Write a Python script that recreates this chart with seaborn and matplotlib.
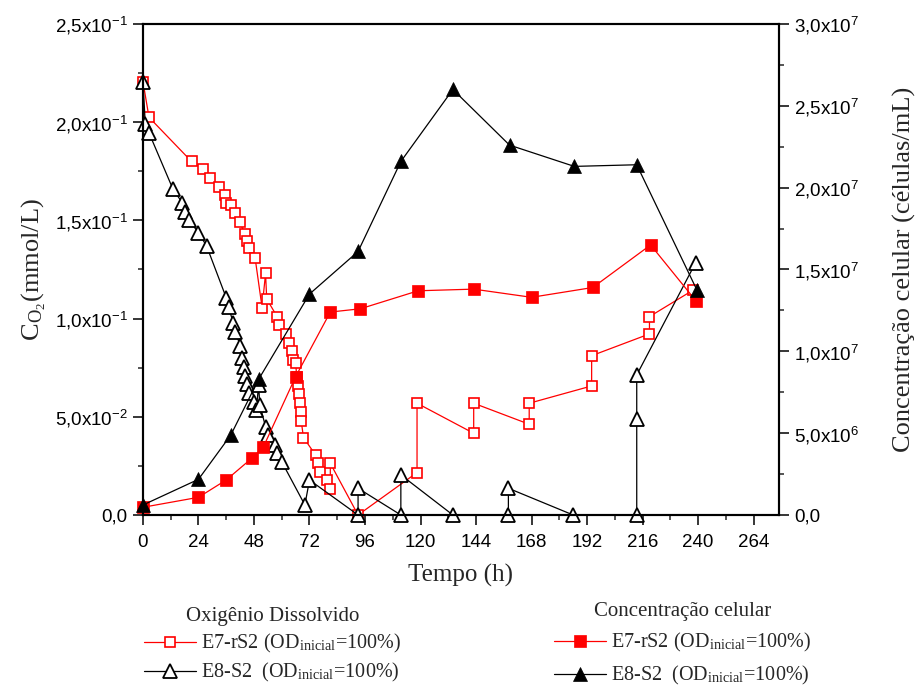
import matplotlib.pyplot as plt
import seaborn as sns
from matplotlib.ticker import MultipleLocator

# dissolved oxygen, E7-rS2 (open squares) - time (h), C_O2 (mmol/L)
t_o2_e7 = [0, 2.6, 21, 26, 29, 33, 35.5, 36, 38, 40,
           42, 44, 45, 46, 48.5, 51.5, 53, 53.5, 58, 59,
           62, 63, 64.4, 65, 66, 66.5, 67, 67.5, 68, 68.4,
           68.4, 69.4, 74.6, 75.5, 76.6, 79.5, 81, 81, 93, 118.5,
           118.5, 143, 143, 167, 167, 194, 194, 219, 219, 238]
c_o2_e7 = [0.2206, 0.2025, 0.180, 0.176, 0.1718, 0.167, 0.163, 0.1587, 0.158, 0.154,
           0.149, 0.143, 0.1395, 0.136, 0.1307, 0.1056, 0.123, 0.110, 0.101, 0.0966,
           0.0921, 0.0877, 0.0835, 0.0789, 0.0772, 0.0704, 0.0658, 0.0614, 0.0569, 0.0523,
           0.048, 0.0394, 0.0306, 0.0263, 0.0217, 0.0178, 0.0132, 0.0263, 0.0, 0.0216,
           0.0569, 0.0416, 0.0569, 0.0462, 0.0569, 0.0657, 0.0811, 0.0922, 0.101, 0.1146]

# dissolved oxygen, E8-S2 (open triangles)
t_o2_e8 = [0, 1, 2.7, 13, 17, 18, 20, 24, 27.5, 36,
           37, 39, 40, 42, 43, 43.7, 44, 45, 46, 48,
           49, 50, 50.5, 53, 54, 57, 58, 60, 70, 72,
           93, 93, 111.5, 111.5, 134, 158, 158, 186, 213.5, 213.5,
           213.5, 239]
c_o2_e8 = [0.2206, 0.199, 0.1943, 0.1658, 0.159, 0.1544, 0.150, 0.1437, 0.137, 0.1106,
           0.106, 0.0979, 0.0933, 0.0862, 0.0798, 0.0752, 0.0708, 0.0667, 0.062, 0.0577,
           0.0535, 0.0662, 0.056, 0.045, 0.0407, 0.0356, 0.0314, 0.0271, 0.0051, 0.0178,
           0.0, 0.0136, 0.0, 0.0204, 0.0, 0.0, 0.0136, 0.0, 0.0, 0.0487,
           0.0713, 0.1285]

# cell concentration (cells/mL)
t_cel_e7 = [0, 24, 36, 47, 52, 66, 81, 94, 119, 143, 168, 194.5, 219.5, 239]
c_cel_e7 = [4.7e5, 1.08e6, 2.14e6, 3.46e6, 4.14e6, 8.45e6, 1.24e7, 1.26e7, 1.37e7,
            1.38e7, 1.33e7, 1.39e7, 1.65e7, 1.31e7]
t_cel_e8 = [0, 24, 38, 50, 72, 93, 111.5, 134, 158.5, 186.5, 213.5, 239.5]
c_cel_e8 = [6.1e5, 2.18e6, 4.89e6, 8.29e6, 1.35e7, 1.61e7, 2.16e7, 2.6e7, 2.26e7,
            2.13e7, 2.14e7, 1.375e7]

x_ticks = [0, 24, 48, 72, 96, 120, 144, 168, 192, 216, 240, 264]
y_left_ticks = [0, 0.05, 0.10, 0.15, 0.20, 0.25]
y_left_labels = ['0,0', r'5,0x10$^{\mathregular{-2}}$', r'1,0x10$^{\mathregular{-1}}$',
                 r'1,5x10$^{\mathregular{-1}}$', r'2,0x10$^{\mathregular{-1}}$',
                 r'2,5x10$^{\mathregular{-1}}$']
y_right_ticks = [0, 5e6, 1e7, 1.5e7, 2e7, 2.5e7, 3e7]
y_right_labels = ['0,0', r'5,0x10$^{\mathregular{6}}$', r'1,0x10$^{\mathregular{7}}$',
                  r'1,5x10$^{\mathregular{7}}$', r'2,0x10$^{\mathregular{7}}$',
                  r'2,5x10$^{\mathregular{7}}$', r'3,0x10$^{\mathregular{7}}$']

label_e7 = r'E7-rS2 (OD$_{\mathregular{inicial}}$=100%)'
label_e8 = r'E8-S2  (OD$_{\mathregular{inicial}}$=100%)'

sns.set_style("ticks")
plt.rcParams['font.family'] = ['Liberation Serif', 'DejaVu Serif']
plt.rcParams['mathtext.fontset'] = 'stix'

fig = plt.figure(figsize=(9.16, 6.86), dpi=100)
ax = fig.add_axes([0.1561, 0.2493, 0.6943, 0.7157])
ax2 = ax.twinx()

common = dict(sort=False, estimator=None, legend=False, clip_on=False, lw=0.9)

# oxygen curves on the left axis
sns.lineplot(x=t_o2_e7, y=c_o2_e7, ax=ax, color='red', marker='s', markersize=7.5,
             markerfacecolor='white', markeredgecolor='red', markeredgewidth=1.2, **common)
sns.lineplot(x=t_o2_e8, y=c_o2_e8, ax=ax, color='black', marker='^', markersize=10,
             markerfacecolor='white', markeredgecolor='black', markeredgewidth=1.3, **common)

# cell curves on the right axis
sns.lineplot(x=t_cel_e7, y=c_cel_e7, ax=ax2, color='red', marker='s', markersize=9,
             markerfacecolor='red', markeredgecolor='red', markeredgewidth=0.5, **common)
sns.lineplot(x=t_cel_e8, y=c_cel_e8, ax=ax2, color='black', marker='^', markersize=10,
             markerfacecolor='black', markeredgecolor='black', markeredgewidth=0.5, **common)

ax.set_xlim(0, 275)
ax.set_ylim(0, 0.25)
ax2.set_ylim(0, 3e7)

ax.set_xticks(x_ticks)
ax.set_xticklabels([str(v) for v in x_ticks], fontfamily='Liberation Sans', fontsize=13.5)
ax.xaxis.set_minor_locator(MultipleLocator(12))
ax.set_yticks(y_left_ticks)
ax.set_yticklabels(y_left_labels, fontfamily='Liberation Sans', fontsize=13.5)
ax.yaxis.set_minor_locator(MultipleLocator(0.025))
ax2.set_yticks(y_right_ticks)
ax2.set_yticklabels(y_right_labels, fontfamily='Liberation Sans', fontsize=13.5)
ax2.yaxis.set_minor_locator(MultipleLocator(2.5e6))

for a in (ax, ax2):
    a.tick_params(which='major', direction='out', length=7, width=1.1, pad=4, colors='black')
    a.tick_params(which='minor', direction='out', length=3.5, width=1.1)
    for s in a.spines.values():
        s.set_linewidth(1.5)
        s.set_color('black')
ax.tick_params(top=False, right=False, which='both')
ax.tick_params(axis='x', which='major', pad=7)

ax.set_xlabel('Tempo (h)', fontsize=18, labelpad=9)
ax.set_ylabel(r'C$_{\mathregular{O_2}}$(mmol/L)', fontsize=19, labelpad=5)
ax2.set_ylabel('Concentração celular (células/mL)', fontsize=19, labelpad=24)

leg_kw = dict(frameon=False, fontsize=14.5, title_fontsize=15, handlelength=2.6,
              handletextpad=0.25, borderpad=0.25, loc='upper left')
leg1 = fig.legend(handles=[ax.lines[0], ax.lines[1]], labels=[label_e7, label_e8],
                  title='Oxigênio Dissolvido', bbox_to_anchor=(0.1408, 0.1370),
                  labelspacing=0.3, **leg_kw)
leg2 = fig.legend(handles=[ax2.lines[0], ax2.lines[1]], labels=[label_e7, label_e8],
                  title='Concentração celular', bbox_to_anchor=(0.5883, 0.1443),
                  labelspacing=0.5, **leg_kw)

fig.savefig('out.png', dpi=100)
